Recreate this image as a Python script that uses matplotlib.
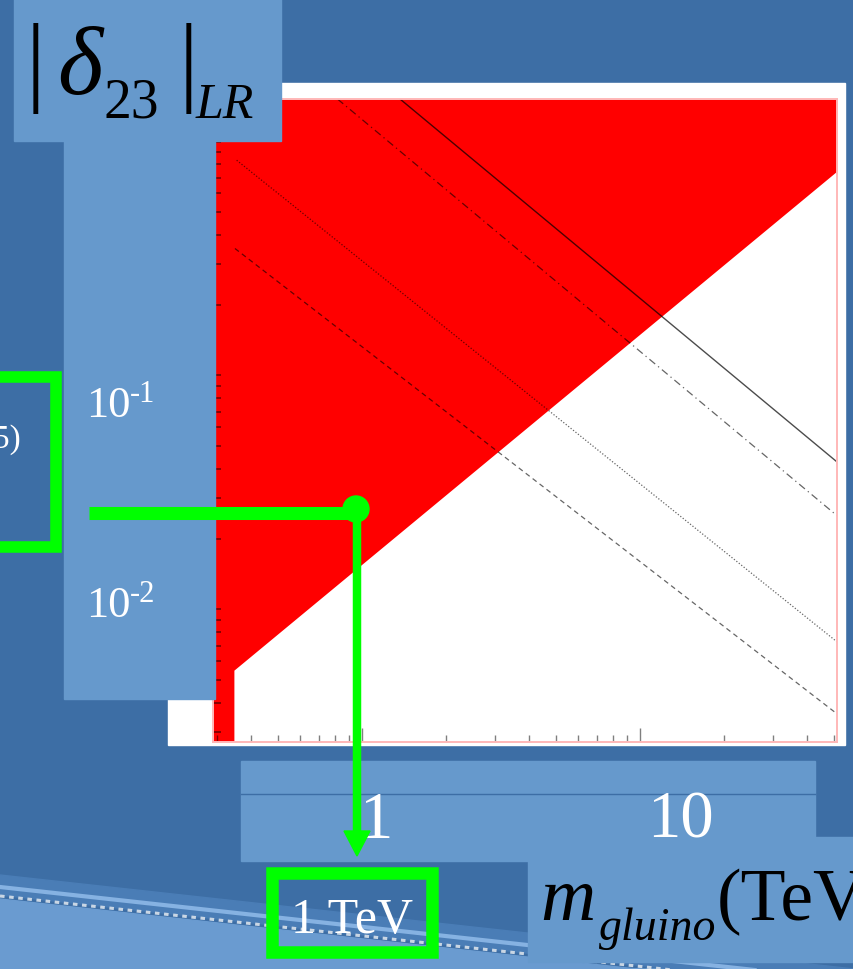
import matplotlib.pyplot as plt
from matplotlib.patches import Rectangle, Polygon, Circle
from matplotlib.ticker import LogLocator, NullFormatter

W, H = 854, 970
DARK = '#3d6ea5'
LIGHT = '#6699cc'
GREEN = '#00ff00'

# allowed region boundary (gluino mass in TeV vs |delta_23|_LR)
m_min, m_max = 0.291, 51.3
d_min, d_max = 0.00272, 1.52
bound_m = [0.346, 51.3]
bound_d = [0.0055, 0.75]

# constraint curves: (m values, delta values)
solid_m, solid_d = [1.37, 51.3], [1.52, 0.0426]
dashdot_m, dashdot_d = [0.816, 51.3], [1.52, 0.0251]
dotted_m, dotted_d = [0.354, 51.3], [0.832, 0.00725]
dashed_m, dashed_d = [0.349, 51.3], [0.349, 0.00357]

fig = plt.figure(figsize=(W / 100, H / 100), dpi=100)

def px_axes(z):
    a = fig.add_axes([0, 0, 1, 1], zorder=z)
    a.set_xlim(0, W)
    a.set_ylim(H, 0)
    a.axis('off')
    a.patch.set_visible(False)
    return a

# slide background
bg = px_axes(0)
bg.add_patch(Rectangle((0, 0), W, H, color=DARK))
wave_x = [0, W]
wave_y = [900, 900 + 0.11 * W]
bg.add_patch(Polygon([(0, wave_y[0]), (W, wave_y[1]), (W, H), (0, H)], color='#6a9bd0'))
bg.add_patch(Polygon([(0, wave_y[0] - 24), (W, wave_y[1] - 24), (W, wave_y[1] - 4), (0, wave_y[0] - 4)],
                     color='#4a7db6'))
bg.plot(wave_x, [y - 12 for y in wave_y], color='#86b2e2', lw=3)
bg.plot(wave_x, [y - 3 for y in wave_y], color='#c9d6e4', lw=2.2, ls=(0, (1.5, 1.5)))
bg.add_patch(Rectangle((168, 84), 845 - 168, 746 - 84, color='white'))

# the plot itself
ax = fig.add_axes([213 / W, 1 - 742.7 / H, (837.3 - 213) / W, (742.7 - 100) / H], zorder=1)
ax.set_xscale('log')
ax.set_yscale('log')
ax.set_xlim(m_min, m_max)
ax.set_ylim(d_min, d_max)
fill_m = [m_min, bound_m[0], bound_m[0], bound_m[1], m_max]
fill_lo = [d_min, d_min, bound_d[0], bound_d[1], bound_d[1]]
ax.fill_between(fill_m, fill_lo, d_max, color='#ff0000', lw=0)
ax.plot(solid_m, solid_d, color='black', alpha=0.7, lw=1.0)
ax.plot(dashdot_m, dashdot_d, color='black', alpha=0.6, lw=0.9, ls=(0, (6, 3, 1, 3)))
ax.plot(dotted_m, dotted_d, color='black', alpha=0.6, lw=0.9, ls=(0, (1, 1.5)))
ax.plot(dashed_m, dashed_d, color='black', alpha=0.6, lw=0.9, ls=(0, (4, 3)))
for s in ax.spines.values():
    s.set_color('#ffb8b8')
    s.set_linewidth(1.4)
ax.xaxis.set_major_locator(LogLocator(base=10))
ax.xaxis.set_minor_locator(LogLocator(base=10, subs=range(2, 10)))
ax.yaxis.set_major_locator(LogLocator(base=10))
ax.yaxis.set_minor_locator(LogLocator(base=10, subs=range(2, 10)))
ax.xaxis.set_major_formatter(NullFormatter())
ax.xaxis.set_minor_formatter(NullFormatter())
ax.yaxis.set_major_formatter(NullFormatter())
ax.yaxis.set_minor_formatter(NullFormatter())
ax.tick_params(axis='x', which='major', direction='in', length=10, width=1, color=(0, 0, 0, 0.5))
ax.tick_params(axis='x', which='minor', direction='in', length=5, width=1, color=(0, 0, 0, 0.5))
ax.tick_params(axis='y', which='both', direction='in', length=5.5, width=1.3, color=(0, 0, 0, 0.5))
ax.tick_params(top=False, right=False, which='both')

# slide overlay boxes and annotations
ov = px_axes(2)
serif = 'Liberation Serif'
ov.text(132, 156, '1', color='white', fontsize=32, family=serif, ha='center', va='baseline', zorder=1)
ov.add_patch(Rectangle((14, 0), 281 - 14, 142, color=LIGHT, zorder=2))
ov.add_patch(Rectangle((64, 142), 215 - 64, 700 - 142, color=LIGHT, zorder=2))
ov.text(35, 93, '|', fontsize=71, family=serif, ha='center', va='baseline', zorder=3)
ov.text(57, 94, '\u03b4', fontsize=70, family=serif, style='italic', ha='left', va='baseline', zorder=3)
ov.text(104, 118, '23', fontsize=40, family=serif, ha='left', va='baseline', zorder=3)
ov.text(188, 93, '|', fontsize=71, family=serif, ha='center', va='baseline', zorder=3)
ov.text(196, 118, 'LR', fontsize=36, family=serif, style='italic', ha='left', va='baseline', zorder=3)
for base, sup in [(417, '-1'), (617, '-2')]:
    ov.text(86, base, '10', color='white', fontsize=32, family=serif, ha='left', va='baseline', zorder=3)
    ov.text(130, base - 15, sup, color='white', fontsize=22, family=serif, ha='left', va='baseline', zorder=3)

# left reference box (runs off the slide edge)
ov.add_patch(Rectangle((-60, 377.5), 116, 170, fill=False, ec=GREEN, lw=8.3, zorder=3))
ov.text(21, 448, '5)', color='white', fontsize=24, family=serif, ha='right', va='baseline', zorder=3)

# x tick label strip
ov.add_patch(Rectangle((241, 762), 815 - 241, 862 - 762, color=LIGHT, zorder=2))
ov.plot([241, 815], [795, 795], color=DARK, lw=1, zorder=2.5)
ov.text(376, 838, '1', color='white', fontsize=48, family=serif, ha='center', va='baseline', zorder=3)
ov.text(680, 838, '10', color='white', fontsize=48, family=serif, ha='center', va='baseline', zorder=3)

# axis title box
ov.add_patch(Rectangle((528, 838), W - 528, 963 - 838, color=LIGHT, zorder=2))
ov.text(540, 920, 'm', fontsize=55, family=serif, style='italic', ha='left', va='baseline', zorder=3)
ov.text(599, 940, 'gluino', fontsize=33, family=serif, style='italic', ha='left', va='baseline', zorder=3)
ov.text(717, 920, '(TeV)', fontsize=53, family=serif, ha='left', va='baseline', zorder=3)

# green marker: 1 TeV point
ov.plot([89, 356], [514, 514], color=GREEN, lw=9.4, solid_capstyle='butt', zorder=4)
ov.plot([357, 357], [514, 836], color=GREEN, lw=6.1, solid_capstyle='butt', zorder=4)
ov.add_patch(Polygon([(344, 832), (370, 832), (357, 857)], color=GREEN, zorder=4))
ov.add_patch(Circle((356, 510), 13, color=GREEN, zorder=4))
ov.add_patch(Rectangle((272.5, 874), 160, 79, fill=False, ec=GREEN, lw=9, zorder=4))
ov.text(352, 933, '1 TeV', color='white', fontsize=36, family=serif, ha='center', va='baseline', zorder=4)

fig.savefig('out.png', dpi=100)
